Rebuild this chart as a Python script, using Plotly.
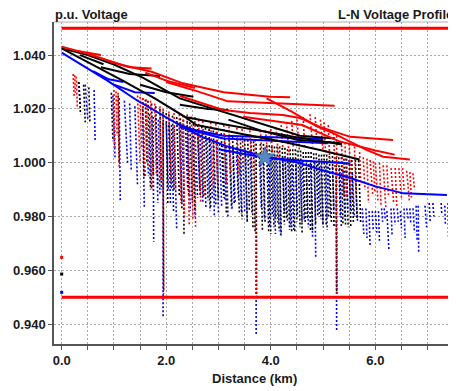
import plotly.graph_objects as go

# ---------------- data (distance km, voltage p.u.) ----------------
red_line_x = [
    [0, 0.5, 1.15, 1.72, 2.32, 3.1, 3.98, 4.37],
    [0.3, 0.75],
    [0.9, 1.3, 1.72],
    [1.6, 2.0, 2.55],
    [2.0, 2.6, 3.18, 4.0, 4.9, 5.22],
    [2.26, 3.09, 3.6, 4.23, 4.56, 4.94, 5.52, 6.0, 6.34],
    [3.92, 4.4, 4.9, 5.19, 5.84, 6.15, 6.66],
    [3.47, 4.18, 4.6, 5.3, 6.0, 6.37],
]
red_line_v = [
    [1.0431, 1.0405, 1.0363, 1.0338, 1.0295, 1.0262, 1.0245, 1.0243],
    [1.0415, 1.0400],
    [1.0378, 1.0355, 1.0350],
    [1.0335, 1.0305, 1.0278],
    [1.0300, 1.0265, 1.0228, 1.0222, 1.0215, 1.0212],
    [1.0248, 1.0196, 1.0185, 1.0177, 1.0166, 1.0133, 1.0096, 1.0088, 1.0084],
    [1.0239, 1.0190, 1.0133, 1.0110, 1.0047, 1.0022, 1.0012],
    [1.0171, 1.0152, 1.0140, 1.0080, 1.0045, 1.0030],
]

black_line_x = [
    [0, 0.5, 1.0, 1.56, 2.26, 3.19, 4.0, 4.56, 5.23],
    [0, 1.15, 1.78, 2.36, 3.18, 4.46, 5.36],
    [2.36, 2.58, 3.5, 4.3, 4.94, 5.7],
    [0.35, 0.8],
    [0.75, 1.3, 1.88],
    [1.5, 2.0, 2.52],
    [2.26, 2.8, 3.19],
    [3.19, 3.8, 4.5, 5.36],
]
black_line_v = [
    [1.0425, 1.0400, 1.0365, 1.0315, 1.0239, 1.0183, 1.0135, 1.0100, 1.0090],
    [1.0425, 1.0307, 1.0239, 1.0170, 1.0140, 1.0096, 1.0068],
    [1.0170, 1.0140, 1.0105, 1.0075, 1.0047, 1.0012],
    [1.0400, 1.0366],
    [1.0355, 1.0330, 1.0322],
    [1.0290, 1.0262, 1.0245],
    [1.0215, 1.0200, 1.0196],
    [1.0160, 1.0120, 1.0085, 1.0072],
]

blue_line_x = [
    [0, 0.86, 1.43, 2.2, 2.7, 3.19, 3.89, 4.5, 4.94, 5.52, 6.0, 6.54, 7.37],
    [3.0, 3.89, 4.56, 5.52],
    [2.2, 2.6, 3.09, 4.0, 5.1],
    [2.26, 3.09, 4.2, 5.0],
    [0.6, 0.9, 1.18],
    [1.0, 1.4, 1.78],
]
blue_line_v = [
    [1.0409, 1.0307, 1.0233, 1.0146, 1.0095, 1.0059, 1.0022, 1.0002, 0.9975, 0.9943, 0.9912, 0.9886, 0.9880],
    [1.0050, 1.0018, 1.0008, 0.9997],
    [1.0146, 1.0115, 1.0090, 1.0082, 1.0072],
    [1.0133, 1.0100, 1.0094, 1.0088],
    [1.0340, 1.0310, 1.0300],
    [1.0290, 1.0262, 1.0259],
]

# dotted secondary drops: top point (x0, v0) to bottom point (x1, v1)
blue_drop_x0 = [0.32, 0.45, 0.62, 0.98, 1.10, 1.30, 1.40, 1.55, 1.68, 1.75, 1.85, 1.94, 2.05, 2.15, 2.30,
                2.42, 2.55, 2.65, 2.78, 2.90, 3.02, 3.15, 3.28, 3.40, 3.52, 3.72, 3.85, 3.95, 4.05, 4.17,
                4.28, 4.40, 4.55, 4.68, 4.84, 4.96, 5.10, 5.25, 5.38, 5.50, 5.62, 5.75, 5.88, 6.00, 6.12,
                6.22, 6.35, 6.48, 6.60, 6.72, 6.82, 6.95, 7.10, 7.26, 7.39]
blue_drop_v0 = [1.030, 1.029, 1.027, 1.025, 1.024, 1.022, 1.021, 1.020, 1.018, 1.017, 1.016, 1.015, 1.014, 1.0135, 1.013,
                1.012, 1.011, 1.010, 1.009, 1.008, 1.007, 1.006, 1.0055, 1.005, 1.0045, 1.004, 1.003, 1.0025, 1.0022, 1.002,
                1.0015, 1.001, 1.0008, 1.000, 1.000, 0.999, 0.9985, 0.998, 0.997, 0.996, 0.994, 0.983, 0.982, 0.982, 0.983,
                0.982, 0.983, 0.982, 0.983, 0.983, 0.984, 0.984, 0.985, 0.985, 0.985]
blue_drop_x1 = [0.36, 0.50, 0.64, 1.02, 1.12, 1.33, 1.45, 1.58, 1.72, 1.76, 1.88, 1.94, 2.08, 2.20, 2.34,
                2.46, 2.60, 2.70, 2.84, 2.92, 3.06, 3.18, 3.32, 3.44, 3.55, 3.72, 3.88, 3.98, 4.09, 4.19,
                4.32, 4.44, 4.60, 4.72, 4.86, 5.00, 5.14, 5.26, 5.42, 5.54, 5.66, 5.78, 5.90, 6.03, 6.14,
                6.26, 6.38, 6.50, 6.63, 6.75, 6.83, 6.98, 7.12, 7.27, 7.40]
blue_drop_v1 = [1.021, 1.016, 1.008, 1.002, 0.986, 0.997, 0.992, 0.9836, 0.990, 0.9706, 0.988, 0.9427, 0.985, 0.975, 0.988,
                0.982, 0.987, 0.9855, 0.982, 0.980, 0.984, 0.980, 0.985, 0.981, 0.978, 0.936, 0.979, 0.976, 0.9735, 0.9725,
                0.978, 0.9745, 0.978, 0.976, 0.9644, 0.977, 0.980, 0.9378, 0.979, 0.982, 0.978, 0.9735, 0.9687, 0.974, 0.978,
                0.9676, 0.977, 0.9756, 0.979, 0.974, 0.9663, 0.976, 0.980, 0.981, 0.9725]

blue_twig_x0 = [1.20, 1.62, 1.80, 2.00, 2.10, 2.25, 2.37, 2.50, 2.60, 2.72, 2.84, 2.96, 3.08, 3.22, 3.34,
                3.46, 3.60, 3.78, 4.00, 4.10, 4.23, 4.35, 4.48, 4.60, 4.76, 4.90, 5.05, 5.18, 5.32, 5.44,
                5.56, 5.82, 5.94, 6.06, 6.17, 6.30, 6.42, 6.55, 6.66, 6.78, 7.03, 7.33]
blue_twig_v0 = [1.023, 1.019, 1.0165, 1.0148, 1.014, 1.013, 1.0125, 1.0115, 1.0105, 1.0095, 1.0085, 1.0075, 1.0065, 1.006, 1.0055,
                1.005, 1.0045, 1.0035, 1.0025, 1.0022, 1.002, 1.0015, 1.001, 1.0005, 1.000, 0.9995, 0.999, 0.9985, 0.998, 0.997,
                0.996, 0.983, 0.982, 0.982, 0.983, 0.983, 0.983, 0.983, 0.983, 0.984, 0.985, 0.984]
blue_twig_x1 = [1.26, 1.66, 1.84, 2.04, 2.14, 2.30, 2.41, 2.55, 2.64, 2.76, 2.88, 3.00, 3.12, 3.26, 3.38,
                3.50, 3.64, 3.82, 4.03, 4.14, 4.26, 4.38, 4.51, 4.64, 4.80, 4.93, 5.08, 5.21, 5.35, 5.47,
                5.60, 5.84, 5.96, 6.08, 6.19, 6.32, 6.44, 6.57, 6.68, 6.80, 7.05, 7.34]
blue_twig_v1 = [1.000, 0.995, 0.985, 0.990, 0.982, 0.985, 0.990, 0.980, 0.990, 0.983, 0.987, 0.981, 0.986, 0.983, 0.987,
                0.982, 0.981, 0.983, 0.980, 0.977, 0.981, 0.976, 0.980, 0.979, 0.972, 0.980, 0.975, 0.982, 0.976, 0.983,
                0.980, 0.972, 0.975, 0.971, 0.979, 0.973, 0.978, 0.972, 0.977, 0.971, 0.978, 0.977]

black_drop_x0 = [0.33, 0.42, 0.52, 0.95, 1.08, 1.55, 1.65, 1.80, 1.94, 2.05, 2.20, 2.33, 2.45, 2.60, 2.75,
                 2.90, 3.05, 3.20, 3.35, 3.50, 3.62, 3.72, 3.80, 3.92, 4.02, 4.12, 4.22, 4.32, 4.42, 4.52,
                 4.62, 4.72, 4.82, 4.92, 5.02, 5.12, 5.25, 5.35, 5.45, 5.55, 5.68]
black_drop_v0 = [1.030, 1.029, 1.028, 1.026, 1.025, 1.024, 1.023, 1.021, 1.019, 1.018, 1.017, 1.016, 1.015, 1.014, 1.013,
                 1.012, 1.011, 1.010, 1.009, 1.0085, 1.008, 1.007, 1.007, 1.0065, 1.006, 1.006, 1.0055, 1.005, 1.005, 1.0045,
                 1.004, 1.004, 1.0035, 1.003, 1.003, 1.0025, 1.002, 1.002, 1.0015, 1.001, 1.001]
black_drop_x1 = [0.36, 0.45, 0.54, 0.98, 1.10, 1.58, 1.70, 1.84, 1.95, 2.10, 2.25, 2.34, 2.50, 2.65, 2.80,
                 2.95, 3.10, 3.25, 3.40, 3.55, 3.66, 3.73, 3.84, 3.96, 4.06, 4.16, 4.26, 4.36, 4.46, 4.56,
                 4.66, 4.76, 4.86, 4.96, 5.06, 5.16, 5.26, 5.38, 5.48, 5.58, 5.72]
black_drop_v1 = [1.018, 1.015, 1.0147, 1.008, 1.000, 0.995, 0.990, 0.992, 0.952, 0.990, 0.988, 0.9733, 0.985, 0.988, 0.986,
                 0.984, 0.987, 0.983, 0.981, 0.978, 0.976, 0.950, 0.975, 0.974, 0.976, 0.9745, 0.977, 0.975, 0.9745, 0.976,
                 0.978, 0.975, 0.977, 0.979, 0.977, 0.978, 0.952, 0.9775, 0.976, 0.978, 0.9775]

black_twig_x0 = [1.60, 1.72, 1.88, 2.00, 2.12, 2.27, 2.40, 2.52, 2.68, 2.82, 2.97, 3.12, 3.27, 3.42, 3.56,
                 3.67, 3.86, 3.97, 4.07, 4.17, 4.27, 4.37, 4.47, 4.57, 4.67, 4.77, 4.87, 4.97, 5.07, 5.18,
                 5.30, 5.40, 5.50, 5.62]
black_twig_v0 = [1.0235, 1.022, 1.020, 1.0185, 1.0175, 1.0165, 1.0155, 1.0145, 1.0135, 1.0125, 1.0115, 1.0105, 1.0095, 1.009, 1.0085,
                 1.008, 1.007, 1.0065, 1.006, 1.006, 1.0055, 1.005, 1.005, 1.0045, 1.004, 1.004, 1.0035, 1.003, 1.003, 1.0025,
                 1.002, 1.0015, 1.001, 1.001]
black_twig_x1 = [1.63, 1.75, 1.91, 2.03, 2.15, 2.30, 2.43, 2.55, 2.71, 2.85, 3.00, 3.15, 3.30, 3.45, 3.59,
                 3.70, 3.89, 4.00, 4.10, 4.20, 4.30, 4.40, 4.50, 4.60, 4.70, 4.80, 4.90, 5.00, 5.10, 5.21,
                 5.33, 5.43, 5.53, 5.65]
black_twig_v1 = [1.000, 0.995, 0.990, 0.985, 0.990, 0.983, 0.988, 0.982, 0.987, 0.983, 0.986, 0.981, 0.985, 0.979, 0.982,
                 0.974, 0.978, 0.9735, 0.979, 0.973, 0.979, 0.974, 0.978, 0.9735, 0.979, 0.9745, 0.980, 0.976, 0.980, 0.976,
                 0.980, 0.977, 0.9765, 0.979]

red_drop_x0 = [0.22, 0.28, 1.00, 1.08, 1.45, 1.55, 1.70, 1.94, 2.05, 2.40, 2.55, 2.62, 2.85, 3.10, 3.35,
               3.60, 3.70, 3.90, 4.10, 4.30, 4.50, 4.75, 4.95, 5.10, 5.26, 5.35, 5.50, 5.77, 5.90, 6.00,
               6.15, 6.30, 6.45, 6.60, 6.72]
red_drop_v0 = [1.033, 1.032, 1.027, 1.026, 1.025, 1.024, 1.023, 1.020, 1.019, 1.018, 1.017, 1.016, 1.015, 1.014, 1.013,
               1.012, 1.010, 1.012, 1.013, 1.015, 1.016, 1.018, 1.016, 1.014, 1.010, 1.008, 1.007, 1.002, 1.001, 1.000,
               0.999, 0.998, 0.998, 0.997, 0.996]
red_drop_x1 = [0.24, 0.30, 1.02, 1.10, 1.50, 1.60, 1.74, 1.95, 2.10, 2.44, 2.56, 2.66, 2.90, 3.15, 3.40,
               3.64, 3.72, 3.95, 4.15, 4.35, 4.55, 4.80, 5.00, 5.13, 5.27, 5.40, 5.55, 5.80, 5.95, 6.05,
               6.20, 6.35, 6.50, 6.65, 6.75]
red_drop_v1 = [1.024, 1.020, 1.005, 0.998, 1.000, 0.995, 0.990, 0.951, 0.992, 0.977, 0.9762, 0.985, 0.990, 0.992, 0.995,
               0.998, 0.951, 1.000, 1.002, 1.003, 1.004, 1.006, 1.004, 1.000, 0.951, 0.988, 0.986, 0.990, 0.988, 0.986,
               0.9835, 0.985, 0.987, 0.986, 0.990]

red_twig_x0 = [0.25, 1.04, 1.50, 1.62, 1.78, 1.88, 2.15, 2.25, 2.32, 2.48, 2.70, 2.95, 3.20, 3.45, 3.80,
               4.00, 4.20, 4.40, 4.62, 4.85, 5.02, 5.20, 5.42, 5.60, 5.70, 5.84, 5.96, 6.08, 6.22, 6.38,
               6.52, 6.66]
red_twig_v0 = [1.0325, 1.0265, 1.0245, 1.0235, 1.022, 1.021, 1.0185, 1.018, 1.0175, 1.0172, 1.0155, 1.0145, 1.0135, 1.0125, 1.012,
               1.0125, 1.014, 1.0155, 1.017, 1.017, 1.015, 1.011, 1.0075, 1.006, 1.004, 1.0015, 1.0005, 1.000, 0.999, 0.998,
               0.998, 0.9965]
red_twig_x1 = [0.26, 1.06, 1.53, 1.65, 1.81, 1.90, 2.18, 2.28, 2.35, 2.51, 2.73, 2.98, 3.23, 3.48, 3.83,
               4.03, 4.23, 4.43, 4.65, 4.88, 5.05, 5.23, 5.45, 5.63, 5.72, 5.87, 5.99, 6.11, 6.25, 6.41,
               6.55, 6.69]
red_twig_v1 = [1.026, 1.010, 1.005, 0.998, 0.996, 0.993, 0.990, 0.985, 0.980, 0.979, 0.988, 0.993, 0.996, 0.999, 1.003,
               1.004, 1.005, 1.006, 1.005, 1.008, 1.003, 0.998, 0.987, 0.989, 0.992, 0.985, 0.989, 0.984, 0.988, 0.984,
               0.990, 0.987]

# isolated nodes at the source
source_pts_x = [0, 0, 0]
source_pts_v = [0.9648, 0.9586, 0.9518]
source_pts_color = ["#ff0000", "#000000", "#0000ff"]

# limits and marked node
limit_x = [0, 7.39]
upper_limit = [1.05, 1.05]
lower_limit = [0.95, 0.95]
star_x = [3.89]
star_v = [1.0020]

x_tickvals = [0, 0.5, 1, 1.5, 2, 2.5, 3, 3.5, 4, 4.5, 5, 5.5, 6, 6.5, 7]
x_ticktext = ["0.0", "", "", "", "2.0", "", "", "", "4.0", "", "", "", "6.0", "", ""]
y_tickvals = [0.94, 0.96, 0.98, 1.00, 1.02, 1.04]
y_ticktext = ["0.940", "0.960", "0.980", "1.000", "1.020", "1.040"]


# ---------------- build ----------------
def join_lines(xs, vs):
    X, Y = [], []
    for a, b in zip(xs, vs):
        X += list(a) + [None]
        Y += list(b) + [None]
    return X, Y


def join_drops(x0, v0, x1, v1):
    X, Y = [], []
    for a, b, c, d in zip(x0, v0, x1, v1):
        X += [a, c, None]
        Y += [b, d, None]
    return X, Y


RED, BLACK, BLUE = "#ff0000", "#000000", "#0000ff"
fig = go.Figure()

dotted_sets = [
    ((blue_drop_x0, blue_drop_v0, blue_drop_x1, blue_drop_v1), BLUE),
    ((blue_twig_x0, blue_twig_v0, blue_twig_x1, blue_twig_v1), BLUE),
    ((black_drop_x0, black_drop_v0, black_drop_x1, black_drop_v1), BLACK),
    ((black_twig_x0, black_twig_v0, black_twig_x1, black_twig_v1), BLACK),
    ((red_drop_x0, red_drop_v0, red_drop_x1, red_drop_v1), RED),
    ((red_twig_x0, red_twig_v0, red_twig_x1, red_twig_v1), RED),
]
for (x0, v0, x1, v1), col in dotted_sets:
    X, Y = join_drops(x0, v0, x1, v1)
    fig.add_trace(go.Scatter(x=X, y=Y, mode="lines", hoverinfo="skip",
                             line=dict(color=col, width=1.6, dash="2px,2px")))

fig.add_trace(go.Scatter(x=source_pts_x, y=source_pts_v, mode="markers",
                         marker=dict(color=source_pts_color, size=3, symbol="square")))

for (xs, vs), col in [((blue_line_x, blue_line_v), BLUE),
                      ((black_line_x, black_line_v), BLACK),
                      ((red_line_x, red_line_v), RED)]:
    X, Y = join_lines(xs, vs)
    fig.add_trace(go.Scatter(x=X, y=Y, mode="lines", line=dict(color=col, width=2)))

fig.add_trace(go.Scatter(x=limit_x, y=upper_limit, mode="lines", line=dict(color=RED, width=3)))
fig.add_trace(go.Scatter(x=limit_x, y=lower_limit, mode="lines", line=dict(color=RED, width=3)))
fig.add_trace(go.Scatter(x=star_x, y=star_v, mode="markers",
                         marker=dict(symbol="star", size=15, color="#5b88c0",
                                     line=dict(color="#3d6a9e", width=1))))

FONT = "Liberation Sans, Arial, sans-serif"
TXT = dict(family=FONT, size=13, color="#1a1a1a", weight="bold")
# page body has an 8px margin, so the figure is 448x383 and its margins are reduced by 8
fig.update_layout(
    width=448, height=383,
    margin=dict(l=46, r=2, t=14, b=47),
    paper_bgcolor="white", plot_bgcolor="white",
    showlegend=False,
    font=TXT,
    xaxis=dict(range=[-0.147, 7.505], tickvals=x_tickvals, ticktext=x_ticktext,
               showgrid=True, gridcolor="#a8a8a8", gridwidth=1, griddash="2px,2px",
               zeroline=False, showline=True, linecolor="#555555", linewidth=1.5,
               ticks="outside", ticklen=4, tickcolor="#555555", tickfont=TXT),
    yaxis=dict(range=[0.9326, 1.0523], tickvals=y_tickvals, ticktext=y_ticktext,
               showgrid=True, gridcolor="#a8a8a8", gridwidth=1, griddash="2px,2px",
               zeroline=False, showline=True, linecolor="#555555", linewidth=1.5,
               ticks="outside", ticklen=4, tickcolor="#555555", tickfont=TXT),
    shapes=[dict(type="line", xref="paper", yref="paper", x0=0, x1=1, y0=1, y1=1,
                 line=dict(color="#b0b0b0", width=1)),
            dict(type="line", xref="paper", yref="paper", x0=1, x1=1, y0=0, y1=1,
                 line=dict(color="#b0b0b0", width=1))],
    annotations=[
        dict(text="p.u. Voltage", xref="paper", yref="paper", x=-0.0025, y=1.0225,
             xanchor="left", yanchor="middle", showarrow=False, font=TXT),
        dict(text="L-N Voltage Profile", xref="paper", yref="paper", x=1.0017, y=1.0225,
             xanchor="right", yanchor="middle", showarrow=False, font=TXT),
        dict(text="Distance (km)", xref="paper", yref="paper", x=0.5, y=-0.1056,
             xanchor="center", yanchor="middle", showarrow=False, font=TXT),
    ],
)

fig.write_html("out.html")
